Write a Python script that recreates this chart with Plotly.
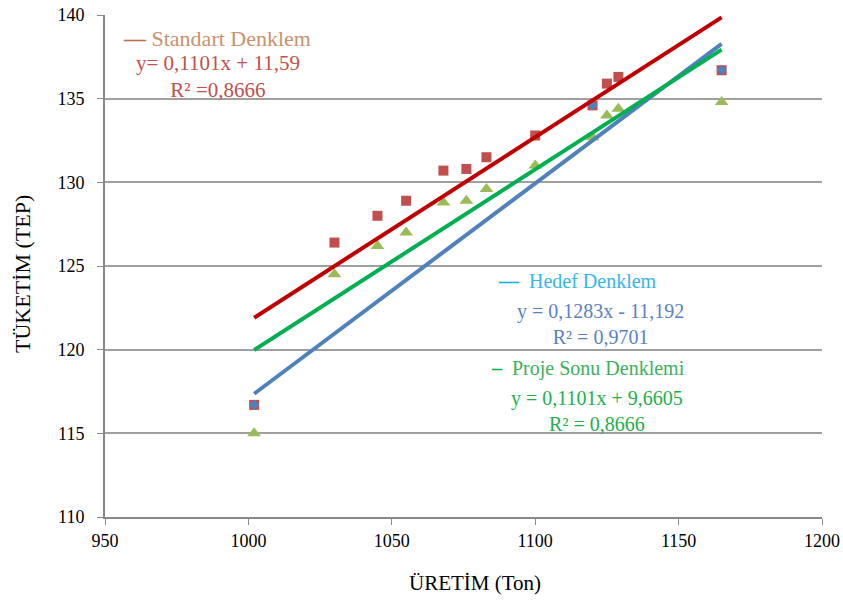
import plotly.graph_objects as go

# Data
uretim = [1002, 1030, 1045, 1055, 1068, 1076, 1083, 1100, 1120, 1125, 1129, 1165]
standart = [116.7, 126.4, 128.0, 128.9, 130.7, 130.8, 131.5, 132.8, 134.6, 135.9, 136.3, 136.7]
proje_sonu = [115.0, 124.5, 126.2, 127.0, 128.8, 128.9, 129.6, 131.0, 132.7, 134.0, 134.4, 134.8]
hedef_x = [1002, 1120, 1165]
hedef_y = [116.7, 134.6, 136.7]

# Trend line coefficients (slope, intercept)
std_coef = (0.1101, 11.59)
hedef_coef = (0.1283, -11.192)
proje_coef = (0.1101, 9.6605)
trend_x = [min(uretim), max(uretim)]

x_ticks = [950, 1000, 1050, 1100, 1150, 1200]
y_ticks = [110, 115, 120, 125, 130, 135, 140]

FONT = "Liberation Serif, Times New Roman, serif"

fig = go.Figure()

fig.add_trace(go.Scatter(x=uretim, y=standart, mode="markers",
                         marker=dict(symbol="square", size=10, color="#C0504D"),
                         name="Standart"))
fig.add_trace(go.Scatter(x=uretim, y=proje_sonu, mode="markers",
                         marker=dict(symbol="triangle-up", size=12, color="#9BBB59"),
                         name="Proje Sonu"))
fig.add_trace(go.Scatter(x=hedef_x, y=hedef_y, mode="markers",
                         marker=dict(symbol="diamond", size=8, color="#4F81BD"),
                         name="Hedef"))

def line(coef, color):
    m, b = coef
    return go.Scatter(x=trend_x, y=[m * v + b for v in trend_x], mode="lines",
                      line=dict(color=color, width=4), hoverinfo="skip")

fig.add_trace(line(hedef_coef, "#4F81BD"))
fig.add_trace(line(proje_coef, "#00B050"))
fig.add_trace(line(std_coef, "#C00000"))

# screen pixel -> paper coordinates (plot area: x 105..822, y 15..517 on screen)
def sx(px):
    return (px - 105) / 717.0

def sy(py):
    return (517 - py) / 502.0

# legend-like labels: (left px, center py, text, colour, size)
labels = [
    (121, 39, "<span style='color:#B8704A'><b>—</b></span> Standart Denklem", "#C9916E", 22),
    (496, 281, "<span style='color:#00B0F0'><b>—</b></span>  Hedef Denklem", "#33B5EE", 20),
    (489, 368, "<span style='color:#00B050'><b>–</b></span>  Proje Sonu Denklemi", "#3DB060", 20),
]
for px, py, txt, col, sz in labels:
    fig.add_annotation(x=sx(px), y=sy(py), xref="paper", yref="paper", text=txt,
                       showarrow=False, xanchor="left", yanchor="middle",
                       font=dict(family=FONT, size=sz, color=col))

# equations: (center px, center py, text, colour, size)
equations = [
    (218, 76, "y= 0,1101x + 11,59<br>R² =0,8666", "#C0504D", 21),
    (600, 324, "y = 0,1283x - 11,192<br>R² = 0,9701", "#5B7FC0", 20),
    (597, 411, "y = 0,1101x + 9,6605<br>R² = 0,8666", "#1DB050", 20),
]
for px, py, txt, col, sz in equations:
    fig.add_annotation(x=sx(px), y=sy(py), xref="paper", yref="paper", text=txt,
                       showarrow=False, xanchor="center", yanchor="middle", align="center",
                       font=dict(family=FONT, size=sz, color=col))

# Axis titles
fig.add_annotation(x=sx(475), y=sy(583), xref="paper", yref="paper", text="ÜRETİM (Ton)",
                   showarrow=False, xanchor="center", yanchor="middle",
                   font=dict(family=FONT, size=21, color="black"))
fig.add_annotation(x=sx(22), y=sy(274), xref="paper", yref="paper", text="TÜKETİM (TEP)",
                   showarrow=False, xanchor="center", yanchor="middle", textangle=-90,
                   font=dict(family=FONT, size=22, color="black"))

fig.update_layout(
    width=843, height=602,
    margin=dict(l=105, r=21, t=15, b=85, autoexpand=False),
    plot_bgcolor="white", paper_bgcolor="white",
    showlegend=False,
    font=dict(family=FONT, size=18, color="black"),
)
fig.update_xaxes(range=[950, 1200], tickvals=x_ticks, showgrid=False, automargin=False,
                 showline=True, linecolor="#888888", linewidth=2,
                 ticks="outside", ticklen=6, tickcolor="#888888", tickwidth=1,
                 zeroline=False, ticklabelstandoff=0, ticklabeloverflow="allow",
                 tickfont=dict(family=FONT, size=18))
fig.update_yaxes(range=[110, 140], tickvals=y_ticks, showgrid=True, automargin=False,
                 gridcolor="#A0A0A0", gridwidth=2,
                 showline=True, linecolor="#888888", linewidth=2,
                 ticks="outside", ticklen=6, tickcolor="#888888", tickwidth=1,
                 zeroline=False, ticklabelstandoff=9, ticklabeloverflow="allow",
                 tickfont=dict(family=FONT, size=18))

fig.write_html("out.html", config={"displayModeBar": False},
               post_script="document.body.style.margin='0';document.body.style.overflow='hidden';")
